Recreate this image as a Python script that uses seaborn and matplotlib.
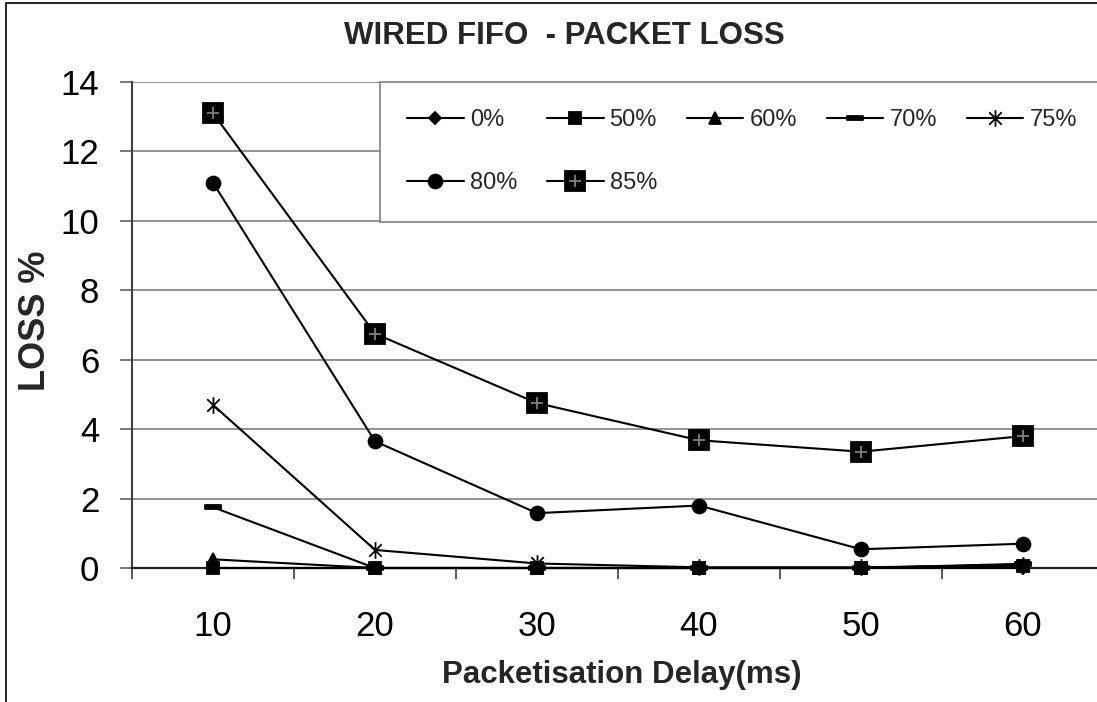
import matplotlib
matplotlib.use('Agg')
import matplotlib.pyplot as plt
from matplotlib.lines import Line2D
from matplotlib.path import Path
from matplotlib.patches import Rectangle
import seaborn as sns

# data
delays = [10, 20, 30, 40, 50, 60]
series_names = ['0%', '50%', '60%', '70%', '75%', '80%', '85%']
loss_0 = [0, 0, 0, 0, 0, 0]
loss_50 = [0, 0, 0, 0, 0, 0.05]
loss_60 = [0.25, 0, 0, 0, 0, 0.1]
loss_70 = [1.75, 0, 0, 0, 0, 0.12]
loss_75 = [4.7, 0.52, 0.13, 0.02, 0.02, 0.08]
loss_80 = [11.1, 3.65, 1.58, 1.8, 0.54, 0.7]
loss_85 = [13.1, 6.75, 4.75, 3.68, 3.35, 3.8]
y_ticks = [0, 2, 4, 6, 8, 10, 12, 14]

title_text = 'WIRED FIFO  - PACKET LOSS'
x_title = 'Packetisation Delay(ms)'
y_title = 'LOSS %'

sns.set_theme(style='white')
plt.rcParams['font.family'] = ['Liberation Sans', 'DejaVu Sans']

# excel-like marker shapes
dash_marker = Path([(-1, -0.3), (1, -0.3), (1, 0.3), (-1, 0.3), (-1, -0.3)], closed=True)
star_marker = Path([(0, -1), (0, 1), (-0.75, -0.75), (0.75, 0.75), (-0.75, 0.75), (0.75, -0.75)],
                   [Path.MOVETO, Path.LINETO] * 3)

styles = {
    '0%': dict(marker='D', markersize=6.5, mfc='black'),
    '50%': dict(marker='s', markersize=8.5, mfc='black'),
    '60%': dict(marker='^', markersize=8.5, mfc='black'),
    '70%': dict(marker=dash_marker, markersize=11, mfc='black'),
    '75%': dict(marker=star_marker, markersize=12, mfc='none'),
    '80%': dict(marker='o', markersize=10, mfc='black'),
    '85%': dict(marker='s', markersize=14, mfc='black'),
}
all_series = [loss_0, loss_50, loss_60, loss_70, loss_75, loss_80, loss_85]

fig = plt.figure(figsize=(10.97, 7.02), dpi=100)
ax = fig.add_axes([132 / 1097, 134 / 702, 972 / 1097, 486 / 702])

for i, (name, vals) in enumerate(zip(series_names, all_series)):
    sns.lineplot(x=delays, y=vals, ax=ax, color='black', lw=1.5, mec='black', mew=1.3,
                 label=name, clip_on=False, zorder=3 + i, **styles[name])

# gray cross inside the 85% squares
sns.scatterplot(x=delays, y=loss_85, ax=ax, marker='+', s=80, color='#808080',
                linewidth=1.3, clip_on=False, zorder=20, legend=False)

ax.set_xlim(5, 65)
ax.set_ylim(0, 14)
ax.set_xticks(delays)
ax.set_xticks([d - 5 for d in delays] + [delays[-1] + 5], minor=True)
ax.set_yticks(y_ticks)
ax.tick_params(axis='x', which='major', length=0, pad=30, labelsize=25, labelcolor='black')
ax.tick_params(axis='x', which='minor', bottom=True, length=8, width=1.2, direction='out', color='#404040')
ax.tick_params(axis='y', left=True, length=8.6, width=1.2, pad=15, labelsize=25,
               direction='out', color='#606060', labelcolor='black')

ax.yaxis.grid(True, color='#808080', lw=1.2)
ax.xaxis.grid(False)
ax.set_axisbelow(True)
for s in ['top', 'right']:
    ax.spines[s].set_visible(False)
ax.spines['left'].set_color('#404040')
ax.spines['left'].set_linewidth(1.5)
ax.spines['bottom'].set_color('#202020')
ax.spines['bottom'].set_linewidth(1.6)

ax.set_title(title_text, fontsize=22.5, fontweight='bold', x=0.445, pad=27)
ax.set_xlabel(x_title, fontsize=22.5, fontweight='bold')
ax.xaxis.set_label_coords(0.504, -0.19)
ax.set_ylabel(y_title, fontsize=26, fontweight='bold')
ax.yaxis.set_label_coords(-0.0988, 0.508)
ax.yaxis.label.set_va('center')

# legend, row-major order in 5 columns
handles, labels = ax.get_legend_handles_labels()
plus = Line2D([], [], ls='none', marker='+', markersize=9, mew=1.3, color='#808080')
handles[6] = (handles[6], plus)
order = [0, 5, 1, 6, 2, 3, 4]
leg = ax.legend([handles[k] for k in order], [labels[k] for k in order], ncol=5,
                loc='upper left', bbox_to_anchor=(0.2551, 0, 0.7449, 1.0), mode='expand',
                borderaxespad=0, fontsize=17, handlelength=2.4, handletextpad=0.25,
                labelspacing=1.75, borderpad=1.15, fancybox=False, framealpha=1,
                edgecolor='#808080')
leg.get_frame().set_linewidth(1.2)

# chart area border
fig.add_artist(Rectangle((6 / 1097, -0.1), 1.2, 1.1 - 3 / 702, transform=fig.transFigure,
                         fill=False, edgecolor='black', lw=1.2))

fig.savefig('out.png', dpi=100)
